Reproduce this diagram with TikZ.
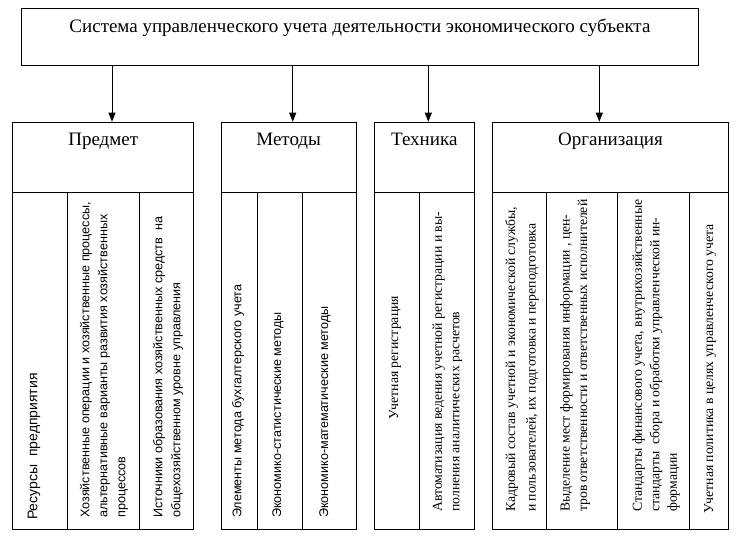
\documentclass[tikz,border=0pt]{standalone}
\usepackage{fontspec}
\setmainfont{Liberation Serif}
\newfontfamily\arialfont{Liberation Sans}
\usetikzlibrary{arrows.meta,positioning}

\begin{document}
\begin{tikzpicture}[x=1pt,y=-1pt,
  box/.style={draw,line width=0.9pt,rectangle,inner sep=0pt,anchor=north west},
  ttl/.style={font=\fontsize{19}{22}\selectfont,inner sep=0pt},
  sans/.style={rotate=90,anchor=west,align=left,inner sep=0pt,
    font=\arialfont\fontsize{12.6}{18}\selectfont},
  serif/.style={rotate=90,anchor=west,align=left,inner sep=0pt,
    font=\fontsize{13.7}{17.5}\selectfont},
  arr/.style={line width=0.9pt,-{Triangle[length=9pt,width=7pt]}}]
\useasboundingbox (0,0) rectangle (737,539);

% system box
\node[box,minimum width=677,minimum height=57] (sys) at (21,8) {};
\node[ttl,below=11pt of sys.north] (systxt) {Система управленческого учета деятельности экономического субъекта};

% headers
\node[box,minimum width=181,minimum height=70] (pred) at (12.3,121.7) {};
\node[box,minimum width=135,minimum height=70] (meth) at (220.7,121.7) {};
\node[box,minimum width=100.3,minimum height=70] (tech) at (373.7,121.7) {};
\node[box,minimum width=236.6,minimum height=70] (org) at (491.7,121.7) {};
\node[ttl,below=11pt of pred.north] (predtxt) {Предмет};
\node[ttl,below=11pt of meth.north] (methtxt) {Методы};
\node[ttl,below=11pt of tech.north] (techtxt) {Техника};
\node[ttl,below=11pt of org.north] (orgtxt) {Организация};

% arrows
\coordinate (a1) at (112,0);
\coordinate (a2) at (292.7,0);
\coordinate (a3) at (428.3,0);
\coordinate (a4) at (599.3,0);
\draw[arr] (sys.south -| a1) -- (pred.north -| a1);
\draw[arr] (sys.south -| a2) -- (meth.north -| a2);
\draw[arr] (sys.south -| a3) -- (tech.north -| a3);
\draw[arr] (sys.south -| a4) -- (org.north -| a4);

% cells
\node[box,minimum width=54.4,minimum height=337.6] (p1) at (12.3,191.7) {};
\node[box,minimum width=72.6,minimum height=337.6] (p2) at (66.7,191.7) {};
\node[box,minimum width=54,minimum height=337.6] (p3) at (139.3,191.7) {};
\node[box,minimum width=36,minimum height=337.6] (m1) at (220.7,191.7) {};
\node[box,minimum width=45,minimum height=337.6] (m2) at (256.7,191.7) {};
\node[box,minimum width=54,minimum height=337.6] (m3) at (301.7,191.7) {};
\node[box,minimum width=45,minimum height=337.6] (t1) at (373.7,191.7) {};
\node[box,minimum width=55.3,minimum height=337.6] (t2) at (418.7,191.7) {};
\node[box,minimum width=54,minimum height=337.6] (o1) at (491.7,191.7) {};
\node[box,minimum width=71.6,minimum height=337.6] (o2) at (545.7,191.7) {};
\node[box,minimum width=72,minimum height=337.6] (o3) at (617.3,191.7) {};
\node[box,minimum width=39,minimum height=337.6] (o4) at (689.3,191.7) {};

% cell texts, read upwards
\node[sans,font=\arialfont\fontsize{14}{18}\selectfont] (p1txt) at (34,520) {Ресурсы\ \ предприятия};
\node[sans] (p2txt) at (104,518) {Хозяйственные операции и хозяйственные процессы,\\альтернативные варианты развития хозяйственных\\процессов};
\node[sans] (p3txt) at (168,518) {Источники образования хозяйственных средств\ \ на\\общехозяйственном уровне управления};
\node[sans] (m1txt) at (238,518) {Элементы метода бухгалтерского учета};
\node[sans] (m2txt) at (278,518) {Экономико-статистические методы};
\node[sans] (m3txt) at (325,518) {Экономико-математические методы};
\node[serif] (t1txt) at (395,420) {Учетная регистрация};
\node[serif] (t2txt) at (447.5,512) {Автоматизация ведения учетной регистрации и вы-\\полнения аналитических расчетов};
\node[serif] (o1txt) at (522,512) {Кадровый состав учетной и экономической службы,\\[3pt]и пользователей, их подготовка и переподготовка};
\node[serif] (o2txt) at (575,512) {Выделение мест формирования информации , цен-\\тров ответственности и ответственных исполнителей};
\node[serif] (o3txt) at (656,512) {Стандарты финансового учета, внутрихозяйственные\\стандарты\ \ сбора и обработки управленческой ин-\\формации};
\node[serif] (o4txt) at (710,514) {Учетная политика в целях управленческого учета};
\end{tikzpicture}
\end{document}
